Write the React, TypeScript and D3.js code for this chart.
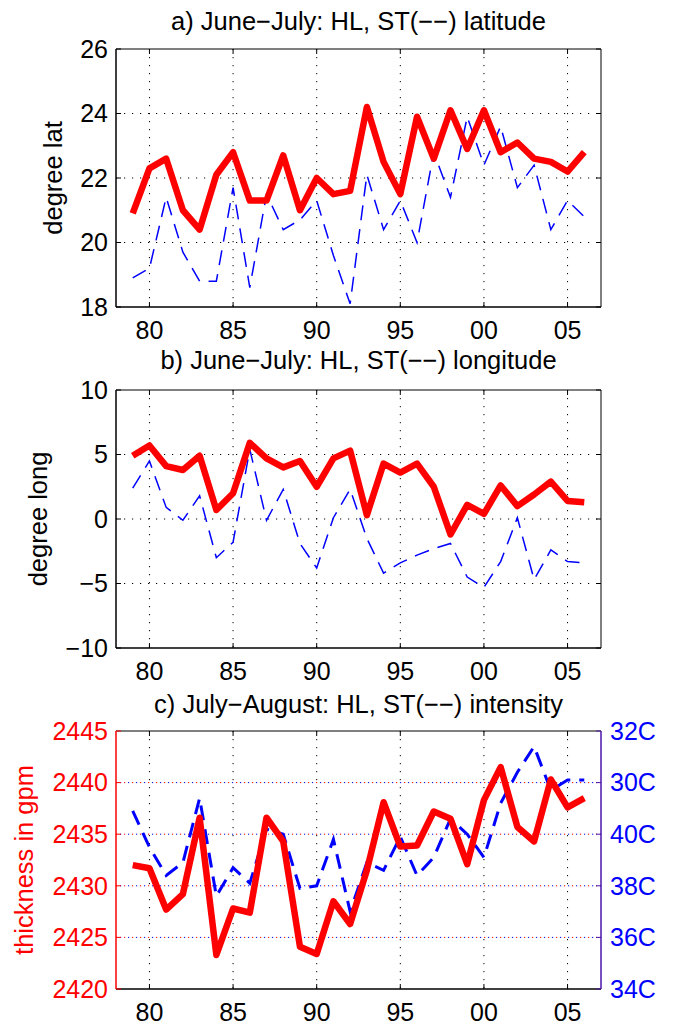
import React, { useEffect, useRef } from 'react';
import * as d3 from 'd3';

// years 1979..2006
const years = [
  1979, 1980, 1981, 1982, 1983, 1984, 1985, 1986, 1987, 1988, 1989, 1990, 1991, 1992,
  1993, 1994, 1995, 1996, 1997, 1998, 1999, 2000, 2001, 2002, 2003, 2004, 2005, 2006,
];
const xTicks = [1980, 1985, 1990, 1995, 2000, 2005];
const xTickLabels = ['80', '85', '90', '95', '00', '05'];

// a) latitude
const latHL = [20.9, 22.3, 22.6, 21.0, 20.4, 22.1, 22.8, 21.3, 21.3, 22.7, 21.0, 22.0, 21.5, 21.6,
  24.2, 22.5, 21.5, 23.9, 22.6, 24.1, 22.9, 24.1, 22.8, 23.1, 22.6, 22.5, 22.2, 22.8];
const latST = [18.9, 19.2, 21.4, 19.7, 18.8, 18.8, 21.7, 18.6, 21.5, 20.4, 20.7, 21.3, 19.6, 18.1,
  22.1, 20.4, 21.3, 20.0, 22.8, 21.4, 23.9, 22.4, 23.6, 21.7, 22.4, 20.4, 21.3, 20.8];
const latTicks = [18, 20, 22, 24, 26];

// b) longitude
const lonHL = [4.9, 5.7, 4.1, 3.8, 4.9, 0.7, 2.0, 5.9, 4.7, 4.0, 4.5, 2.5, 4.7, 5.3,
  0.3, 4.3, 3.6, 4.3, 2.5, -1.2, 1.1, 0.4, 2.6, 1.0, 1.9, 2.9, 1.4, 1.3];
const lonST = [2.4, 4.5, 0.9, -0.1, 1.8, -3.0, -1.8, 5.4, -0.1, 2.3, -1.9, -3.8, 0.1, 2.3,
  -1.5, -4.2, -3.4, -2.8, -2.3, -1.9, -4.5, -5.3, -3.3, 0.1, -4.7, -2.4, -3.3, -3.4];
const lonTicks = [-10, -5, 0, 5, 10];

// c) intensity: HL on left axis (gpm), ST on right axis
const intHL = [2432.0, 2431.7, 2427.7, 2429.2, 2436.6, 2423.3, 2427.8, 2427.4, 2436.6, 2434.3,
  2424.1, 2423.4, 2428.5, 2426.3, 2431.5, 2438.1, 2433.8, 2433.9, 2437.2, 2436.5, 2432.1,
  2438.3, 2441.5, 2435.7, 2434.3, 2440.3, 2437.6, 2438.5];
const intST = [6.9, 5.5, 4.4, 4.9, 7.4, 3.6, 4.7, 4.1, 6.2, 6.0, 3.9, 4.0, 5.8, 3.0,
  4.9, 4.6, 5.9, 4.4, 5.1, 6.6, 6.0, 5.1, 7.2, 8.4, 9.4, 7.7, 8.1, 8.1];
const intTicks = [2420, 2425, 2430, 2435, 2440, 2445];
const stTicks = [0, 2, 4, 6, 8, 10];
const stTickLabels = ['34C', '36C', '38C', '40C', '30C', '32C'];

const FONT = '"Liberation Sans", Arial, Helvetica, sans-serif';
const X0 = 116;
const X1 = 601;
const PH = 258;
const RED = '#ff0000';
const BLUE = '#0000ff';
const PURPLE = '#4a14a8';

const App: React.FC = () => {
  const svgRef = useRef<SVGSVGElement>(null);

  useEffect(() => {
    if (!svgRef.current) return;
    const svg = d3.select(svgRef.current);
    svg.selectAll('*').remove();

    const x = d3.scaleLinear().domain([1978, 2007]).range([X0, X1]);

    const panel = (
      idx: number,
      top: number,
      titleY: number,
      title: string,
      yDomain: [number, number],
      yTicks: number[],
      ylabel: string,
      ylabelX: number,
      hl: number[],
      st: number[],
      dual: boolean,
    ) => {
      const bottom = top + PH;
      const y = d3.scaleLinear().domain(yDomain).range([bottom, top]);
      const y2 = d3.scaleLinear().domain([0, 10]).range([bottom, top]);
      const g = svg.append('g');
      const leftColor = dual ? RED : '#000';

      g.append('clipPath').attr('id', `clip${idx}`)
        .append('rect').attr('x', X0).attr('y', top).attr('width', X1 - X0).attr('height', PH);

      // grid
      g.selectAll('.xg').data(xTicks).enter().append('line')
        .attr('x1', d => x(d)).attr('x2', d => x(d))
        .attr('y1', top).attr('y2', bottom)
        .attr('stroke', '#000').attr('stroke-width', 1).attr('stroke-dasharray', '1.2,6.8');
      const inner = yTicks.slice(1, -1);
      if (dual) {
        g.selectAll('.yg').data(inner).enter().append('line')
          .attr('x1', X0).attr('x2', X1).attr('y1', d => y(d)).attr('y2', d => y(d))
          .attr('stroke', RED).attr('stroke-width', 1).attr('stroke-dasharray', '1.2,6.8');
        g.selectAll('.yg2').data(stTicks.slice(1, -1)).enter().append('line')
          .attr('x1', X0).attr('x2', X1).attr('y1', d => y2(d)).attr('y2', d => y2(d))
          .attr('stroke', BLUE).attr('stroke-width', 1).attr('stroke-dasharray', '1.2,6.8')
          .attr('stroke-dashoffset', -4);
      } else {
        g.selectAll('.yg').data(inner).enter().append('line')
          .attr('x1', X0).attr('x2', X1).attr('y1', d => y(d)).attr('y2', d => y(d))
          .attr('stroke', '#000').attr('stroke-width', 1).attr('stroke-dasharray', '1.2,6.8');
      }

      // lines
      const line = d3.line<number>().x((_, i) => x(years[i]));
      const lines = g.append('g').attr('clip-path', `url(#clip${idx})`);
      lines.append('path')
        .attr('d', line.y(d => (dual ? y2(d) : y(d)))(st))
        .attr('fill', 'none').attr('stroke', BLUE)
        .attr('stroke-width', dual ? 3 : 1.5)
        .attr('stroke-dasharray', '15,9');
      lines.append('path')
        .attr('d', line.y(d => y(d))(hl))
        .attr('fill', 'none').attr('stroke', RED)
        .attr('stroke-width', 6.5).attr('stroke-linejoin', 'round');

      // box
      g.append('line').attr('x1', X0).attr('x2', X1).attr('y1', top).attr('y2', top).attr('stroke', '#000');
      g.append('line').attr('x1', X0).attr('x2', X1).attr('y1', bottom).attr('y2', bottom)
        .attr('stroke', '#000').attr('stroke-width', 1.5);
      g.append('line').attr('x1', X0).attr('x2', X0).attr('y1', top).attr('y2', bottom)
        .attr('stroke', leftColor).attr('stroke-width', 1.5);
      g.append('line').attr('x1', X1).attr('x2', X1).attr('y1', top).attr('y2', bottom)
        .attr('stroke', dual ? PURPLE : '#000').attr('stroke-width', dual ? 1.5 : 1);

      // x ticks (inward, top and bottom)
      xTicks.forEach((t, i) => {
        g.append('line').attr('x1', x(t)).attr('x2', x(t)).attr('y1', bottom).attr('y2', bottom - 5).attr('stroke', '#000');
        g.append('line').attr('x1', x(t)).attr('x2', x(t)).attr('y1', top).attr('y2', top + 5).attr('stroke', '#000');
        g.append('text').attr('x', x(t)).attr('y', bottom + 32)
          .attr('text-anchor', 'middle').attr('font-family', FONT).attr('font-size', 25)
          .attr('fill', '#000').text(xTickLabels[i]);
      });

      // left axis
      yTicks.forEach(t => {
        g.append('line').attr('x1', X0).attr('x2', X0 + 5).attr('y1', y(t)).attr('y2', y(t)).attr('stroke', leftColor);
        if (!dual) {
          g.append('line').attr('x1', X1).attr('x2', X1 - 5).attr('y1', y(t)).attr('y2', y(t)).attr('stroke', '#000');
        }
        g.append('text').attr('x', X0 - 8).attr('y', y(t)).attr('dy', '0.35em')
          .attr('text-anchor', 'end').attr('font-family', FONT).attr('font-size', 25)
          .attr('fill', dual ? RED : '#000')
          .text(String(t).replace('-', '\u2212'));
      });

      // right axis for ST intensity
      if (dual) {
        stTicks.forEach((t, i) => {
          g.append('line').attr('x1', X1).attr('x2', X1 - 5).attr('y1', y2(t)).attr('y2', y2(t)).attr('stroke', PURPLE);
          g.append('text').attr('x', X1 + 9).attr('y', y2(t)).attr('dy', '0.35em')
            .attr('text-anchor', 'start').attr('font-family', FONT).attr('font-size', 25)
            .attr('fill', BLUE).text(stTickLabels[i]);
        });
      }

      // title + ylabel
      g.append('text').attr('x', (X0 + X1) / 2).attr('y', titleY)
        .attr('text-anchor', 'middle').attr('font-family', FONT).attr('font-size', 25.5)
        .attr('fill', '#000').text(title);
      g.append('text')
        .attr('transform', `translate(${ylabelX},${(top + bottom) / 2}) rotate(-90)`)
        .attr('text-anchor', 'middle').attr('font-family', FONT).attr('font-size', 25.5)
        .attr('fill', dual ? RED : '#000').text(ylabel);
    };

    panel(0, 49, 30, 'a) June\u2212July: HL, ST(\u2212\u2212) latitude', [18, 26], latTicks,
      'degree lat', 62, latHL, latST, false);
    panel(1, 390, 369, 'b) June\u2212July: HL, ST(\u2212\u2212) longitude', [-10, 10], lonTicks,
      'degree long', 47, lonHL, lonST, false);
    panel(2, 731, 713, 'c) July\u2212August: HL, ST(\u2212\u2212) intensity', [2420, 2445], intTicks,
      'thickness in gpm', 33, intHL, intST, true);
  }, []);

  return (
    <svg
      ref={svgRef}
      width={680}
      height={1030}
      style={{ position: 'absolute', left: 0, top: 0, background: '#fff' }}
    />
  );
};

export default App;
